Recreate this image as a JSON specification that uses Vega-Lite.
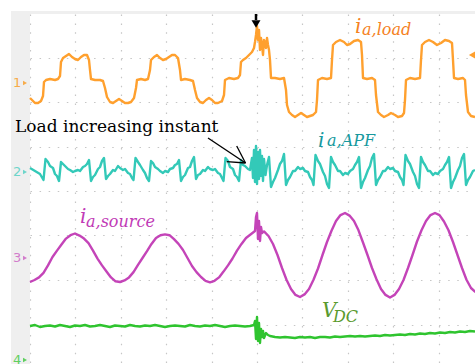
{
"$schema":"https://vega.github.io/schema/vega-lite/v6.json",
"width":445,"height":350,
"autosize":{"type":"none"},
"padding":{"left":30,"top":14,"right":0,"bottom":0},
"background":"white",
"config":{"view":{"stroke":null}},
"datasets":{
"bg":[{"t":-19,"t2":0,"v":-173,"v2":180},{"t":-19,"t2":445,"v":177,"v2":180}],
"tr":[
{"ch":"load","t":0,"v":93},{"ch":"load","t":2,"v":91},{"ch":"load","t":5,"v":88},{"ch":"load","t":8,"v":88},{"ch":"load","t":11,"v":90},{"ch":"load","t":13,"v":95},{"ch":"load","t":14,"v":109},{"ch":"load","t":16,"v":111},{"ch":"load","t":20,"v":112},{"ch":"load","t":25,"v":111},{"ch":"load","t":28,"v":112},{"ch":"load","t":30,"v":115},{"ch":"load","t":31,"v":129},{"ch":"load","t":33,"v":133},{"ch":"load","t":36,"v":135},{"ch":"load","t":39,"v":137},{"ch":"load","t":42,"v":134},{"ch":"load","t":45,"v":132},{"ch":"load","t":48,"v":131},{"ch":"load","t":51,"v":134},{"ch":"load","t":54,"v":136},{"ch":"load","t":57,"v":136},{"ch":"load","t":59,"v":131},{"ch":"load","t":60,"v":121},{"ch":"load","t":61,"v":112},{"ch":"load","t":65,"v":111},{"ch":"load","t":70,"v":111},{"ch":"load","t":73,"v":110},{"ch":"load","t":75,"v":103},{"ch":"load","t":77,"v":94},{"ch":"load","t":80,"v":89},{"ch":"load","t":83,"v":88},{"ch":"load","t":86,"v":90},{"ch":"load","t":89,"v":92},{"ch":"load","t":92,"v":90},{"ch":"load","t":95,"v":88},{"ch":"load","t":98,"v":88},{"ch":"load","t":101,"v":89},{"ch":"load","t":104,"v":93},{"ch":"load","t":106,"v":103},{"ch":"load","t":107,"v":111},{"ch":"load","t":111,"v":112},{"ch":"load","t":115,"v":111},{"ch":"load","t":118,"v":112},{"ch":"load","t":120,"v":121},{"ch":"load","t":121,"v":131},{"ch":"load","t":124,"v":134},{"ch":"load","t":127,"v":136},{"ch":"load","t":130,"v":133},{"ch":"load","t":133,"v":131},{"ch":"load","t":136,"v":132},{"ch":"load","t":139,"v":134},{"ch":"load","t":142,"v":136},{"ch":"load","t":145,"v":136},{"ch":"load","t":148,"v":133},{"ch":"load","t":150,"v":121},{"ch":"load","t":151,"v":111},{"ch":"load","t":155,"v":112},{"ch":"load","t":160,"v":111},{"ch":"load","t":163,"v":110},{"ch":"load","t":165,"v":101},{"ch":"load","t":167,"v":93},{"ch":"load","t":170,"v":89},{"ch":"load","t":173,"v":88},{"ch":"load","t":176,"v":91},{"ch":"load","t":179,"v":93},{"ch":"load","t":182,"v":91},{"ch":"load","t":185,"v":88},{"ch":"load","t":188,"v":88},{"ch":"load","t":192,"v":90},{"ch":"load","t":194,"v":96},{"ch":"load","t":195,"v":111},{"ch":"load","t":199,"v":113},{"ch":"load","t":204,"v":112},{"ch":"load","t":208,"v":113},{"ch":"load","t":210,"v":116},{"ch":"load","t":211,"v":129},{"ch":"load","t":213,"v":131},{"ch":"load","t":216,"v":133},{"ch":"load","t":219,"v":136},{"ch":"load","t":222,"v":139},{"ch":"load","t":224,"v":143},{"ch":"load","t":225,"v":149},{"ch":"load","t":226,"v":156},{"ch":"load","t":227,"v":165},{"ch":"load","t":228,"v":151},{"ch":"load","t":229,"v":161},{"ch":"load","t":230,"v":141},{"ch":"load","t":231,"v":153},{"ch":"load","t":232,"v":146},{"ch":"load","t":233,"v":136},{"ch":"load","t":234,"v":151},{"ch":"load","t":235,"v":149},{"ch":"load","t":236,"v":143},{"ch":"load","t":237,"v":153},{"ch":"load","t":238,"v":146},{"ch":"load","t":239,"v":141},{"ch":"load","t":240,"v":131},{"ch":"load","t":241,"v":113},{"ch":"load","t":245,"v":113},{"ch":"load","t":250,"v":112},{"ch":"load","t":254,"v":113},{"ch":"load","t":256,"v":101},{"ch":"load","t":257,"v":86},{"ch":"load","t":259,"v":79},{"ch":"load","t":262,"v":76},{"ch":"load","t":265,"v":74},{"ch":"load","t":268,"v":76},{"ch":"load","t":271,"v":78},{"ch":"load","t":274,"v":76},{"ch":"load","t":277,"v":74},{"ch":"load","t":280,"v":75},{"ch":"load","t":283,"v":76},{"ch":"load","t":286,"v":79},{"ch":"load","t":287,"v":91},{"ch":"load","t":288,"v":111},{"ch":"load","t":292,"v":113},{"ch":"load","t":297,"v":112},{"ch":"load","t":301,"v":113},{"ch":"load","t":302,"v":131},{"ch":"load","t":303,"v":146},{"ch":"load","t":306,"v":149},{"ch":"load","t":310,"v":151},{"ch":"load","t":314,"v":149},{"ch":"load","t":317,"v":146},{"ch":"load","t":320,"v":147},{"ch":"load","t":324,"v":150},{"ch":"load","t":328,"v":151},{"ch":"load","t":331,"v":149},{"ch":"load","t":332,"v":136},{"ch":"load","t":333,"v":113},{"ch":"load","t":337,"v":112},{"ch":"load","t":342,"v":113},{"ch":"load","t":345,"v":111},{"ch":"load","t":346,"v":96},{"ch":"load","t":348,"v":79},{"ch":"load","t":351,"v":76},{"ch":"load","t":354,"v":74},{"ch":"load","t":358,"v":76},{"ch":"load","t":361,"v":78},{"ch":"load","t":365,"v":76},{"ch":"load","t":368,"v":74},{"ch":"load","t":372,"v":75},{"ch":"load","t":374,"v":78},{"ch":"load","t":375,"v":91},{"ch":"load","t":376,"v":111},{"ch":"load","t":380,"v":113},{"ch":"load","t":385,"v":112},{"ch":"load","t":390,"v":113},{"ch":"load","t":391,"v":131},{"ch":"load","t":392,"v":146},{"ch":"load","t":395,"v":149},{"ch":"load","t":399,"v":151},{"ch":"load","t":403,"v":149},{"ch":"load","t":407,"v":146},{"ch":"load","t":411,"v":148},{"ch":"load","t":415,"v":151},{"ch":"load","t":419,"v":150},{"ch":"load","t":422,"v":148},{"ch":"load","t":423,"v":131},{"ch":"load","t":424,"v":113},{"ch":"load","t":428,"v":112},{"ch":"load","t":433,"v":113},{"ch":"load","t":435,"v":111},{"ch":"load","t":436,"v":96},{"ch":"load","t":438,"v":79},{"ch":"load","t":441,"v":75},{"ch":"load","t":445,"v":74},

{"ch":"apf","t":0,"v":23},{"ch":"apf","t":5,"v":20},{"ch":"apf","t":10,"v":17},{"ch":"apf","t":13.5,"v":11},{"ch":"apf","t":15.5,"v":32},{"ch":"apf","t":18,"v":29},{"ch":"apf","t":20,"v":25},{"ch":"apf","t":23,"v":23},{"ch":"apf","t":25,"v":17},{"ch":"apf","t":27,"v":15},{"ch":"apf","t":29,"v":10},{"ch":"apf","t":31,"v":29},{"ch":"apf","t":33,"v":27},{"ch":"apf","t":35,"v":25},{"ch":"apf","t":38,"v":22},{"ch":"apf","t":40,"v":21},{"ch":"apf","t":43,"v":19},{"ch":"apf","t":45,"v":20},{"ch":"apf","t":48,"v":21},{"ch":"apf","t":50,"v":20},{"ch":"apf","t":53,"v":24},{"ch":"apf","t":55,"v":25},{"ch":"apf","t":57,"v":27},{"ch":"apf","t":59,"v":31},{"ch":"apf","t":61,"v":10},{"ch":"apf","t":63,"v":14},{"ch":"apf","t":65,"v":16},{"ch":"apf","t":68,"v":22},{"ch":"apf","t":70,"v":24},{"ch":"apf","t":72,"v":30},{"ch":"apf","t":74,"v":33},{"ch":"apf","t":76,"v":12},{"ch":"apf","t":78,"v":15},{"ch":"apf","t":80,"v":17},{"ch":"apf","t":83,"v":21},{"ch":"apf","t":85,"v":20},{"ch":"apf","t":88,"v":25},{"ch":"apf","t":90,"v":23},{"ch":"apf","t":93,"v":21},{"ch":"apf","t":95,"v":22},{"ch":"apf","t":98,"v":18},{"ch":"apf","t":100,"v":17},{"ch":"apf","t":102,"v":13},{"ch":"apf","t":103.5,"v":11},{"ch":"apf","t":105.5,"v":33},{"ch":"apf","t":108,"v":29},{"ch":"apf","t":110,"v":26},{"ch":"apf","t":113,"v":21},{"ch":"apf","t":115,"v":18},{"ch":"apf","t":117,"v":13},{"ch":"apf","t":119,"v":10},{"ch":"apf","t":121,"v":30},{"ch":"apf","t":123,"v":28},{"ch":"apf","t":125,"v":24},{"ch":"apf","t":128,"v":22},{"ch":"apf","t":130,"v":20},{"ch":"apf","t":133,"v":18},{"ch":"apf","t":135,"v":20},{"ch":"apf","t":138,"v":19},{"ch":"apf","t":140,"v":22},{"ch":"apf","t":143,"v":23},{"ch":"apf","t":145,"v":26},{"ch":"apf","t":147,"v":27},{"ch":"apf","t":149,"v":31},{"ch":"apf","t":151,"v":10},{"ch":"apf","t":153,"v":14},{"ch":"apf","t":155,"v":16},{"ch":"apf","t":158,"v":23},{"ch":"apf","t":160,"v":24},{"ch":"apf","t":162,"v":30},{"ch":"apf","t":164,"v":34},{"ch":"apf","t":166,"v":12},{"ch":"apf","t":168,"v":16},{"ch":"apf","t":170,"v":17},{"ch":"apf","t":173,"v":21},{"ch":"apf","t":175,"v":20},{"ch":"apf","t":178,"v":24},{"ch":"apf","t":180,"v":22},{"ch":"apf","t":183,"v":21},{"ch":"apf","t":185,"v":22},{"ch":"apf","t":188,"v":18},{"ch":"apf","t":190,"v":17},{"ch":"apf","t":192,"v":13},{"ch":"apf","t":193.5,"v":10},{"ch":"apf","t":195.5,"v":33},{"ch":"apf","t":198,"v":30},{"ch":"apf","t":200,"v":24},{"ch":"apf","t":203,"v":22},{"ch":"apf","t":205,"v":16},{"ch":"apf","t":207,"v":14},{"ch":"apf","t":209,"v":10},{"ch":"apf","t":211,"v":31},{"ch":"apf","t":213,"v":26},{"ch":"apf","t":215,"v":25},{"ch":"apf","t":218,"v":22},{"ch":"apf","t":220,"v":21},{"ch":"apf","t":222,"v":33},{"ch":"apf","t":223,"v":13},{"ch":"apf","t":224,"v":41},{"ch":"apf","t":225,"v":9},{"ch":"apf","t":226,"v":45},{"ch":"apf","t":227,"v":7},{"ch":"apf","t":228,"v":39},{"ch":"apf","t":229,"v":12},{"ch":"apf","t":230,"v":41},{"ch":"apf","t":231,"v":15},{"ch":"apf","t":232,"v":35},{"ch":"apf","t":233,"v":10},{"ch":"apf","t":234,"v":32},{"ch":"apf","t":235.5,"v":16},{"ch":"apf","t":237,"v":26},{"ch":"apf","t":239,"v":34},{"ch":"apf","t":241,"v":4},{"ch":"apf","t":243,"v":9},{"ch":"apf","t":245,"v":13},{"ch":"apf","t":248,"v":21},{"ch":"apf","t":250,"v":27},{"ch":"apf","t":252,"v":30},{"ch":"apf","t":254,"v":37},{"ch":"apf","t":256,"v":6},{"ch":"apf","t":258,"v":11},{"ch":"apf","t":260,"v":14},{"ch":"apf","t":263,"v":20},{"ch":"apf","t":265,"v":20},{"ch":"apf","t":268,"v":24},{"ch":"apf","t":270,"v":22},{"ch":"apf","t":273,"v":23},{"ch":"apf","t":275,"v":20},{"ch":"apf","t":278,"v":19},{"ch":"apf","t":280,"v":14},{"ch":"apf","t":282,"v":11},{"ch":"apf","t":283.5,"v":6},{"ch":"apf","t":285.5,"v":36},{"ch":"apf","t":288,"v":30},{"ch":"apf","t":290,"v":27},{"ch":"apf","t":293,"v":19},{"ch":"apf","t":295,"v":15},{"ch":"apf","t":297,"v":7},{"ch":"apf","t":299,"v":3},{"ch":"apf","t":301,"v":34},{"ch":"apf","t":303,"v":29},{"ch":"apf","t":305,"v":26},{"ch":"apf","t":308,"v":20},{"ch":"apf","t":310,"v":20},{"ch":"apf","t":313,"v":16},{"ch":"apf","t":315,"v":18},{"ch":"apf","t":318,"v":17},{"ch":"apf","t":320,"v":20},{"ch":"apf","t":323,"v":22},{"ch":"apf","t":325,"v":26},{"ch":"apf","t":327,"v":29},{"ch":"apf","t":329,"v":34},{"ch":"apf","t":331,"v":3},{"ch":"apf","t":333,"v":9},{"ch":"apf","t":335,"v":13},{"ch":"apf","t":338,"v":21},{"ch":"apf","t":340,"v":25},{"ch":"apf","t":342,"v":33},{"ch":"apf","t":344,"v":37},{"ch":"apf","t":346,"v":6},{"ch":"apf","t":348,"v":11},{"ch":"apf","t":350,"v":14},{"ch":"apf","t":353,"v":20},{"ch":"apf","t":355,"v":20},{"ch":"apf","t":358,"v":24},{"ch":"apf","t":360,"v":22},{"ch":"apf","t":363,"v":23},{"ch":"apf","t":365,"v":20},{"ch":"apf","t":368,"v":19},{"ch":"apf","t":370,"v":14},{"ch":"apf","t":372,"v":11},{"ch":"apf","t":373.5,"v":6},{"ch":"apf","t":375.5,"v":36},{"ch":"apf","t":378,"v":30},{"ch":"apf","t":380,"v":27},{"ch":"apf","t":383,"v":19},{"ch":"apf","t":385,"v":15},{"ch":"apf","t":387,"v":7},{"ch":"apf","t":389,"v":3},{"ch":"apf","t":391,"v":34},{"ch":"apf","t":393,"v":29},{"ch":"apf","t":395,"v":26},{"ch":"apf","t":398,"v":20},{"ch":"apf","t":400,"v":20},{"ch":"apf","t":403,"v":16},{"ch":"apf","t":405,"v":18},{"ch":"apf","t":408,"v":17},{"ch":"apf","t":410,"v":20},{"ch":"apf","t":413,"v":22},{"ch":"apf","t":415,"v":26},{"ch":"apf","t":417,"v":29},{"ch":"apf","t":419,"v":34},{"ch":"apf","t":421,"v":3},{"ch":"apf","t":423,"v":9},{"ch":"apf","t":425,"v":13},{"ch":"apf","t":428,"v":21},{"ch":"apf","t":430,"v":25},{"ch":"apf","t":432,"v":33},{"ch":"apf","t":434,"v":37},{"ch":"apf","t":436,"v":6},{"ch":"apf","t":438,"v":11},{"ch":"apf","t":440,"v":14},{"ch":"apf","t":443,"v":20},{"ch":"apf","t":445,"v":21},

{"ch":"source","t":0,"v":-91},{"ch":"source","t":4.5,"v":-89},{"ch":"source","t":9,"v":-86.4},{"ch":"source","t":13.5,"v":-81.8},{"ch":"source","t":18,"v":-74.4},{"ch":"source","t":22.5,"v":-66},{"ch":"source","t":27,"v":-59.6},{"ch":"source","t":31.5,"v":-53.5},{"ch":"source","t":36,"v":-47.6},{"ch":"source","t":40.5,"v":-44.2},{"ch":"source","t":45,"v":-42.5},{"ch":"source","t":49.5,"v":-44.6},{"ch":"source","t":54,"v":-47.6},{"ch":"source","t":58.5,"v":-52.2},{"ch":"source","t":63,"v":-59.6},{"ch":"source","t":67.5,"v":-67.6},{"ch":"source","t":72,"v":-74.4},{"ch":"source","t":76.5,"v":-80.5},{"ch":"source","t":81,"v":-86.4},{"ch":"source","t":85.5,"v":-90.3},{"ch":"source","t":90,"v":-91},{"ch":"source","t":94.5,"v":-89.4},{"ch":"source","t":99,"v":-86.4},{"ch":"source","t":103.5,"v":-81.1},{"ch":"source","t":108,"v":-73.8},{"ch":"source","t":112.5,"v":-67},{"ch":"source","t":117,"v":-60.2},{"ch":"source","t":121.5,"v":-52.9},{"ch":"source","t":126,"v":-47},{"ch":"source","t":130.5,"v":-44.2},{"ch":"source","t":135,"v":-43.4},{"ch":"source","t":139.5,"v":-44.2},{"ch":"source","t":144,"v":-48.2},{"ch":"source","t":148.5,"v":-52.9},{"ch":"source","t":153,"v":-59},{"ch":"source","t":157.5,"v":-67},{"ch":"source","t":162,"v":-75},{"ch":"source","t":166.5,"v":-81.1},{"ch":"source","t":171,"v":-86},{"ch":"source","t":175.5,"v":-89.8},{"ch":"source","t":180,"v":-91.4},{"ch":"source","t":184.5,"v":-89.8},{"ch":"source","t":189,"v":-86.4},{"ch":"source","t":193.5,"v":-80.6},{"ch":"source","t":198,"v":-74.4},{"ch":"source","t":202.5,"v":-67.5},{"ch":"source","t":207,"v":-59.6},{"ch":"source","t":211.5,"v":-52.9},{"ch":"source","t":216,"v":-47},{"ch":"source","t":220.5,"v":-43.5},{"ch":"source","t":225,"v":-40},{"ch":"source","t":226,"v":-26},{"ch":"source","t":227,"v":-22},{"ch":"source","t":228,"v":-48},{"ch":"source","t":229,"v":-30},{"ch":"source","t":230,"v":-50},{"ch":"source","t":231,"v":-36},{"ch":"source","t":232,"v":-42},{"ch":"source","t":234,"v":-40.4},{"ch":"source","t":238.5,"v":-45},{"ch":"source","t":243,"v":-53},{"ch":"source","t":247.5,"v":-64},{"ch":"source","t":252,"v":-77},{"ch":"source","t":256.5,"v":-88.7},{"ch":"source","t":261,"v":-98},{"ch":"source","t":265.5,"v":-103.9},{"ch":"source","t":270,"v":-106},{"ch":"source","t":274.5,"v":-103.4},{"ch":"source","t":279,"v":-98},{"ch":"source","t":283.5,"v":-88.7},{"ch":"source","t":288,"v":-77.5},{"ch":"source","t":292.5,"v":-64},{"ch":"source","t":297,"v":-51},{"ch":"source","t":301.5,"v":-39.8},{"ch":"source","t":306,"v":-30},{"ch":"source","t":310.5,"v":-24.1},{"ch":"source","t":315,"v":-22},{"ch":"source","t":319.5,"v":-24.6},{"ch":"source","t":324,"v":-30},{"ch":"source","t":328.5,"v":-39.3},{"ch":"source","t":333,"v":-51.5},{"ch":"source","t":337.5,"v":-64},{"ch":"source","t":342,"v":-77},{"ch":"source","t":346.5,"v":-88.2},{"ch":"source","t":351,"v":-98},{"ch":"source","t":355.5,"v":-103.9},{"ch":"source","t":360,"v":-106.5},{"ch":"source","t":364.5,"v":-103.9},{"ch":"source","t":369,"v":-98},{"ch":"source","t":373.5,"v":-89},{"ch":"source","t":378,"v":-77},{"ch":"source","t":382.5,"v":-64},{"ch":"source","t":387,"v":-50.5},{"ch":"source","t":391.5,"v":-39.3},{"ch":"source","t":396,"v":-30},{"ch":"source","t":400.5,"v":-24.1},{"ch":"source","t":405,"v":-22},{"ch":"source","t":409.5,"v":-24.1},{"ch":"source","t":414,"v":-30.5},{"ch":"source","t":418.5,"v":-39.3},{"ch":"source","t":423,"v":-51},{"ch":"source","t":427.5,"v":-64},{"ch":"source","t":432,"v":-77},{"ch":"source","t":436.5,"v":-88.7},{"ch":"source","t":441,"v":-97},{"ch":"source","t":445.5,"v":-101},

{"ch":"vdc","t":0,"v":-135},{"ch":"vdc","t":5,"v":-134},{"ch":"vdc","t":10,"v":-136},{"ch":"vdc","t":15,"v":-135},{"ch":"vdc","t":20,"v":-134.5},{"ch":"vdc","t":25,"v":-135.5},{"ch":"vdc","t":30,"v":-134},{"ch":"vdc","t":35,"v":-135},{"ch":"vdc","t":40,"v":-136},{"ch":"vdc","t":45,"v":-134.5},{"ch":"vdc","t":50,"v":-135},{"ch":"vdc","t":55,"v":-134},{"ch":"vdc","t":60,"v":-135.5},{"ch":"vdc","t":65,"v":-135},{"ch":"vdc","t":70,"v":-134},{"ch":"vdc","t":75,"v":-135},{"ch":"vdc","t":80,"v":-136},{"ch":"vdc","t":85,"v":-134.5},{"ch":"vdc","t":90,"v":-135},{"ch":"vdc","t":95,"v":-135.5},{"ch":"vdc","t":100,"v":-134},{"ch":"vdc","t":105,"v":-135},{"ch":"vdc","t":110,"v":-135.5},{"ch":"vdc","t":115,"v":-134.5},{"ch":"vdc","t":120,"v":-135},{"ch":"vdc","t":125,"v":-134},{"ch":"vdc","t":130,"v":-135},{"ch":"vdc","t":135,"v":-136},{"ch":"vdc","t":140,"v":-135},{"ch":"vdc","t":145,"v":-134.5},{"ch":"vdc","t":150,"v":-135},{"ch":"vdc","t":155,"v":-135.5},{"ch":"vdc","t":160,"v":-134},{"ch":"vdc","t":165,"v":-135},{"ch":"vdc","t":170,"v":-135.5},{"ch":"vdc","t":175,"v":-134.5},{"ch":"vdc","t":180,"v":-135},{"ch":"vdc","t":185,"v":-134},{"ch":"vdc","t":190,"v":-135},{"ch":"vdc","t":195,"v":-136},{"ch":"vdc","t":200,"v":-135},{"ch":"vdc","t":205,"v":-134.5},{"ch":"vdc","t":210,"v":-135},{"ch":"vdc","t":215,"v":-135.5},{"ch":"vdc","t":220,"v":-135},{"ch":"vdc","t":224,"v":-134},{"ch":"vdc","t":225,"v":-130},{"ch":"vdc","t":226,"v":-148},{"ch":"vdc","t":227,"v":-126},{"ch":"vdc","t":228,"v":-150},{"ch":"vdc","t":229,"v":-132},{"ch":"vdc","t":230,"v":-152},{"ch":"vdc","t":231,"v":-138},{"ch":"vdc","t":232,"v":-146},{"ch":"vdc","t":233,"v":-140},{"ch":"vdc","t":234,"v":-147},{"ch":"vdc","t":236,"v":-142},{"ch":"vdc","t":238,"v":-144},{"ch":"vdc","t":240,"v":-145},{"ch":"vdc","t":245,"v":-146},{"ch":"vdc","t":250,"v":-146.5},{"ch":"vdc","t":255,"v":-146},{"ch":"vdc","t":260,"v":-146.5},{"ch":"vdc","t":265,"v":-147},{"ch":"vdc","t":270,"v":-146},{"ch":"vdc","t":275,"v":-146.5},{"ch":"vdc","t":280,"v":-146},{"ch":"vdc","t":285,"v":-147},{"ch":"vdc","t":290,"v":-146},{"ch":"vdc","t":295,"v":-146},{"ch":"vdc","t":300,"v":-146.5},{"ch":"vdc","t":305,"v":-145.5},{"ch":"vdc","t":310,"v":-146},{"ch":"vdc","t":315,"v":-145.5},{"ch":"vdc","t":320,"v":-145},{"ch":"vdc","t":325,"v":-145.5},{"ch":"vdc","t":330,"v":-145},{"ch":"vdc","t":335,"v":-145.5},{"ch":"vdc","t":340,"v":-145},{"ch":"vdc","t":345,"v":-144.5},{"ch":"vdc","t":350,"v":-145},{"ch":"vdc","t":355,"v":-144},{"ch":"vdc","t":360,"v":-144.5},{"ch":"vdc","t":365,"v":-144},{"ch":"vdc","t":370,"v":-143.5},{"ch":"vdc","t":375,"v":-144},{"ch":"vdc","t":380,"v":-143},{"ch":"vdc","t":385,"v":-143.5},{"ch":"vdc","t":390,"v":-142.5},{"ch":"vdc","t":395,"v":-143},{"ch":"vdc","t":400,"v":-142},{"ch":"vdc","t":405,"v":-142.5},{"ch":"vdc","t":410,"v":-141.5},{"ch":"vdc","t":415,"v":-142},{"ch":"vdc","t":420,"v":-141},{"ch":"vdc","t":425,"v":-141.5},{"ch":"vdc","t":430,"v":-140.5},{"ch":"vdc","t":435,"v":-141},{"ch":"vdc","t":440,"v":-140},{"ch":"vdc","t":445,"v":-140.5}
],
"arrow":[{"seg":"shaft","t":178,"v":53},{"seg":"shaft","t":215.5,"v":28},{"seg":"w1","t":206.7,"v":45},{"seg":"w1","t":215.5,"v":28},{"seg":"w2","t":196.7,"v":29.3},{"seg":"w2","t":215.5,"v":28}],
"lab":[{"ch":"load","t":325,"v":158,"s":"i"},{"ch":"apf","t":288,"v":44,"s":"i"},{"ch":"source","t":50,"v":-32,"s":"i"},{"ch":"vdc","t":292,"v":-126,"s":"V"}],
"sub":[{"ch":"load","t":332,"v":156,"s":"a,load"},{"ch":"apf","t":297,"v":45,"s":"a,APF"},{"ch":"source","t":56,"v":-36,"s":"a,source"},{"ch":"vdc","t":303,"v":-131,"s":"DC"}],
"mk":[{"ch":"load","t":-17,"v":108,"s":"1"},{"ch":"apf","t":-17,"v":19,"s":"2"},{"ch":"source","t":-17,"v":-67,"s":"3"},{"ch":"vdc","t":-17,"v":-169,"s":"4"}],
"mktri":[{"ch":"load","t":-5,"v":108},{"ch":"apf","t":-5,"v":19},{"ch":"source","t":-5,"v":-67},{"ch":"vdc","t":-5,"v":-169}]
},
"encoding":{
"x":{"field":"t","type":"quantitative","scale":{"domain":[0,445],"nice":false,"zero":false},"axis":{"values":[0,45.4,90.8,136.2,181.6,227,272.4,317.8,363.2,408.6],"grid":true,"gridColor":"#c6c6c6","gridDash":[1.5,7.4],"gridWidth":1.2,"labels":false,"ticks":false,"domain":false,"title":null}},
"y":{"field":"v","type":"quantitative","scale":{"domain":[-173,177],"nice":false,"zero":false},"axis":{"values":[-133.5,-89,-44.5,0,44.5,89,133.5],"grid":true,"gridColor":"#c6c6c6","gridDash":[1.5,7.58],"gridWidth":1.2,"labels":false,"ticks":false,"domain":false,"title":null}}
},
"resolve":{"scale":{"color":"independent"}},
"layer":[
{"data":{"name":"bg"},"mark":{"type":"rect","color":"#efefef"},"encoding":{"x2":{"field":"t2"},"y2":{"field":"v2"}}},
{"data":{"name":"tr"},"mark":{"type":"line","strokeWidth":2.4,"strokeJoin":"round"},"encoding":{"color":{"field":"ch","type":"nominal","scale":{"domain":["load","apf","source","vdc"],"range":["#ffa02e","#33c9b8","#c444b8","#2fc42f"]},"legend":null}}},
{"data":{"name":"arrow"},"mark":{"type":"line","color":"black","strokeWidth":1.3},"encoding":{"detail":{"field":"seg"}}},
{"data":{"values":[{"t":-15,"v":59,"s":"Load increasing instant"}]},"mark":{"type":"text","font":"DejaVu Serif","fontSize":17,"align":"left","baseline":"alphabetic","color":"black"},"encoding":{"text":{"field":"s"}}},
{"data":{"name":"lab"},"mark":{"type":"text","font":"DejaVu Serif","fontStyle":"italic","fontSize":20,"align":"left","baseline":"alphabetic"},"encoding":{"text":{"field":"s"},"color":{"field":"ch","type":"nominal","scale":{"domain":["load","apf","source","vdc"],"range":["#f5821f","#17999e","#c13ab6","#5a9a2e"]},"legend":null}}},
{"data":{"name":"sub"},"mark":{"type":"text","font":"DejaVu Serif","fontStyle":"italic","fontSize":16,"align":"left","baseline":"alphabetic"},"encoding":{"text":{"field":"s"},"color":{"field":"ch","type":"nominal","scale":{"domain":["load","apf","source","vdc"],"range":["#f5821f","#17999e","#c13ab6","#5a9a2e"]},"legend":null}}},
{"data":{"name":"mk"},"mark":{"type":"text","font":"DejaVu Sans","fontSize":13,"align":"left","baseline":"middle"},"encoding":{"text":{"field":"s"},"color":{"field":"ch","type":"nominal","scale":{"domain":["load","apf","source","vdc"],"range":["#f7ab4a","#6dd5ca","#d27ccb","#5fcf5f"]},"legend":null}}},
{"data":{"name":"mktri"},"mark":{"type":"point","shape":"triangle-right","filled":true,"size":22,"opacity":1},"encoding":{"color":{"field":"ch","type":"nominal","scale":{"domain":["load","apf","source","vdc"],"range":["#f7ab4a","#6dd5ca","#d27ccb","#5fcf5f"]},"legend":null}}},
{"data":{"values":[{"t":226,"v":177,"v2":171}]},"mark":{"type":"rule","color":"black","strokeWidth":2.5},"encoding":{"y2":{"field":"v2"}}},
{"data":{"values":[{"t":226,"v":167}]},"mark":{"type":"point","shape":"triangle-down","filled":true,"size":80,"color":"black","opacity":1},"encoding":{}},
{"data":{"values":[{"t":443,"v":136}]},"mark":{"type":"point","shape":"triangle-left","filled":true,"size":90,"color":"#ffa02e","opacity":1},"encoding":{}}
]
}
